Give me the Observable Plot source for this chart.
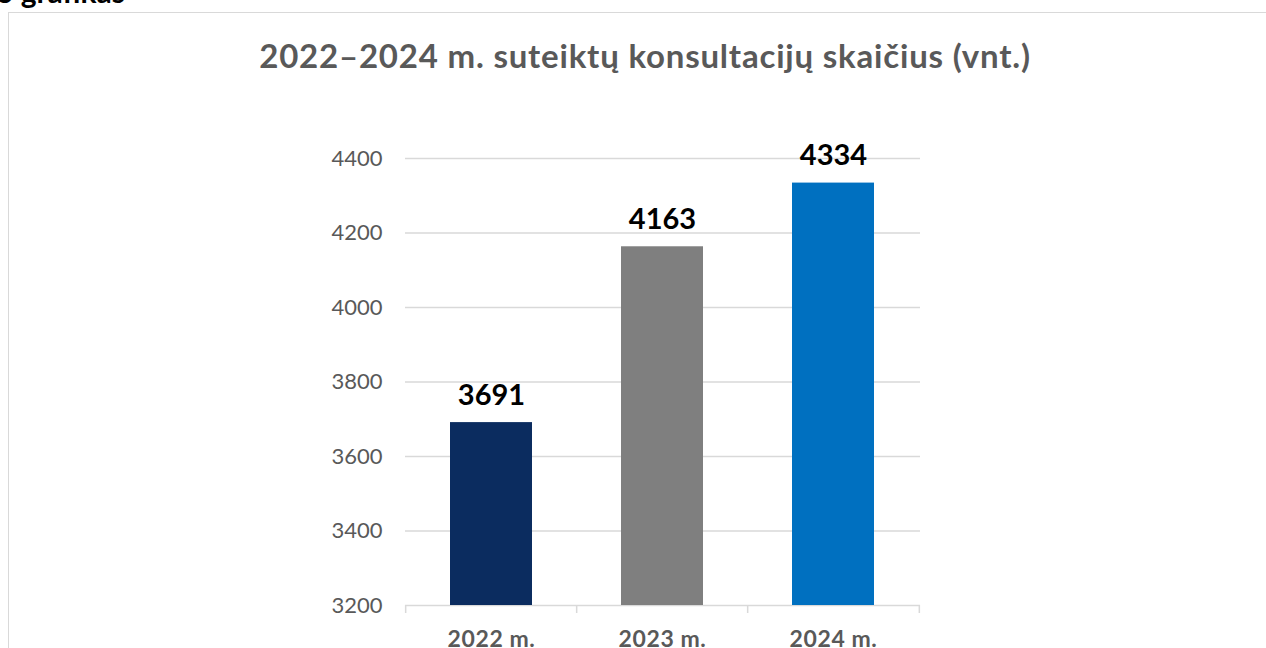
<!DOCTYPE html>
<html>
<head>
<meta charset="utf-8">
<script src="https://cdn.jsdelivr.net/npm/d3@7"></script>
<script src="https://cdn.jsdelivr.net/npm/@observablehq/plot@0.6"></script>
<style>
  html, body { margin: 0; padding: 0; background: #fff; overflow: hidden; }
  #wrap { position: relative; width: 1266px; height: 648px; overflow: hidden; font-family: Lato, "Open Sans", sans-serif; }
  #frame { position: absolute; left: 8px; top: 12px; width: 1300px; height: 700px; border: 1.5px solid #d9d9d9; box-sizing: border-box; }
  #caption { position: absolute; left: -4px; top: -24px; font-size: 30px; font-weight: 700; color: #000; line-height: 30px; white-space: nowrap; }
  #title { position: absolute; left: 0; width: 1290px; top: 39px; text-align: center; font-size: 33px; letter-spacing: 0.8px; font-weight: 700; color: #595959; line-height: 33px; white-space: nowrap; }
  #chart { position: absolute; left: 0; top: 0; }
  #chart g[aria-label="x-axis tick label"] text { letter-spacing: 0.6px; }
</style>
</head>
<body>
<div id="wrap">
  <div id="frame"></div>
  <div id="caption">6 grafikas</div>
  <div id="title">2022–2024 m. suteiktų konsultacijų skaičius (vnt.)</div>
  <div id="chart"></div>
</div>
<script>
const years = ["2022 m.", "2023 m.", "2024 m."];
const values = [3691, 4163, 4334];
const barColors = ["#0b2c5f", "#7f7f7f", "#0070c0"];
const yTicks = [3200, 3400, 3600, 3800, 4000, 4200, 4400];

const data = years.map((y, i) => ({year: y, value: values[i]}));

const W = 1266, H = 648;
const mL = 405, mR = 346, mT = 158, mB = 43;
const step = (W - mL - mR) / years.length;

const chart = Plot.plot({
  width: W,
  height: H,
  marginLeft: mL,
  marginRight: mR,
  marginTop: mT,
  marginBottom: mB,
  style: {fontFamily: "Lato, 'Open Sans', sans-serif", background: "transparent", overflow: "visible"},
  x: {domain: years, paddingInner: 0.52, paddingOuter: 0.26, label: null},
  y: {domain: [yTicks[0], yTicks[yTicks.length - 1]], label: null},
  color: {domain: years, range: barColors},
  marks: [
    Plot.gridY(yTicks, {stroke: "#d9d9d9", strokeOpacity: 1, strokeWidth: 1.5}),
    Plot.ruleX(years, {x: d => d, dx: -step / 2, y1: yTicks[0], y2: yTicks[0], insetBottom: -8, stroke: "#d9d9d9", strokeWidth: 1.5}),
    Plot.ruleX([years[years.length - 1]], {x: d => d, dx: step / 2, y1: yTicks[0], y2: yTicks[0], insetBottom: -8, stroke: "#d9d9d9", strokeWidth: 1.5}),
    Plot.barY(data, {x: "year", y1: yTicks[0], y2: "value", fill: "year"}),
    Plot.text(data, {x: "year", y: "value", text: d => String(d.value), lineAnchor: "middle", dy: -27, fontSize: 29, fontWeight: 700, fill: "#000"}),
    Plot.axisY({ticks: yTicks, tickSize: 0, tickPadding: 23, fontSize: 22, color: "#595959", tickFormat: d => String(d), label: null}),
    Plot.axisX({tickSize: 0, tickPadding: 25, fontSize: 23, fontWeight: 700, color: "#595959", label: null})
  ]
});
document.getElementById("chart").appendChild(chart);
</script>
</body>
</html>
